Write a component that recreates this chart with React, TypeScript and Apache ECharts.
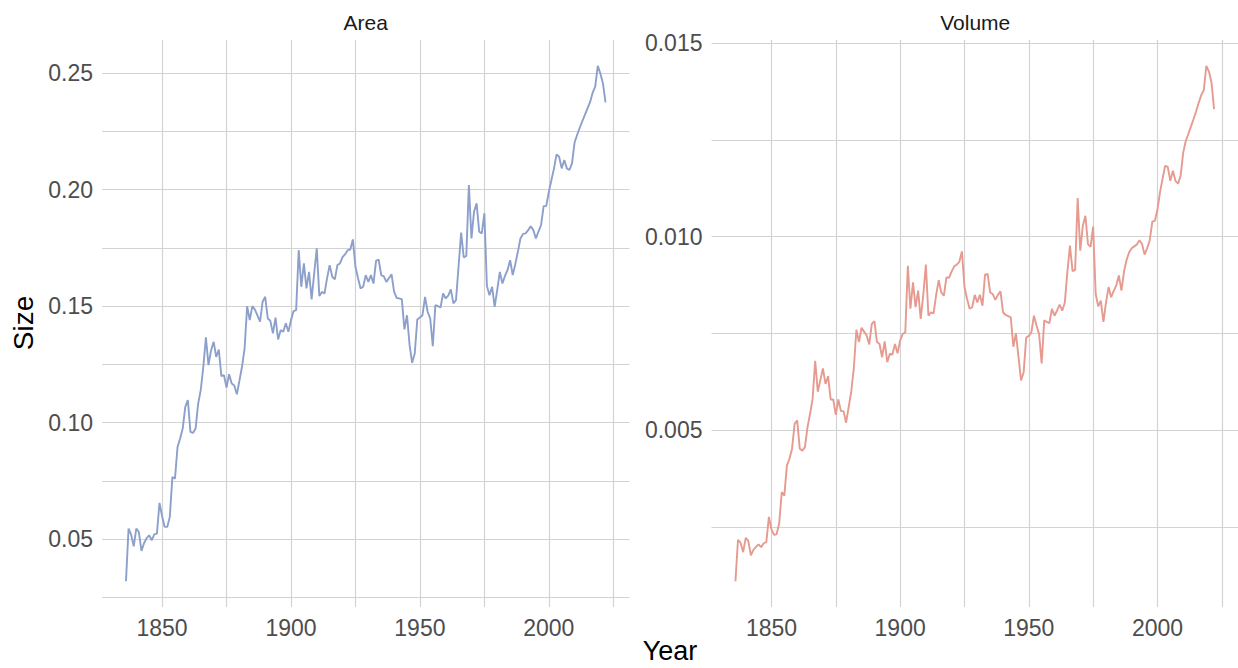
import React, { useEffect, useRef } from "react";
import * as echarts from "echarts";

// Yearly measurements, first year 1836
const START_YEAR = 1836;

const AREA = [
  0.032, 0.0546, 0.052, 0.047, 0.0546, 0.0531, 0.045, 0.0483, 0.0505, 0.0517,
  0.0496, 0.0521, 0.0524, 0.0656, 0.06, 0.0553, 0.0553, 0.0596, 0.0767, 0.076,
  0.0896, 0.0932, 0.0975, 0.1068, 0.1097, 0.0961, 0.0956, 0.0975, 0.1082, 0.114,
  0.124, 0.1366, 0.1247, 0.131, 0.1347, 0.1282, 0.1314, 0.12, 0.1204, 0.1151,
  0.1208, 0.1168, 0.116, 0.1122, 0.118, 0.124, 0.1318, 0.15, 0.144, 0.15,
  0.1485, 0.146, 0.1433, 0.1519, 0.154, 0.1447, 0.1437, 0.1383, 0.1451, 0.1357,
  0.1397, 0.139, 0.1426, 0.139, 0.144, 0.1479, 0.1483, 0.174, 0.1583, 0.1683,
  0.1576, 0.1647, 0.1529, 0.164, 0.1748, 0.1543, 0.1561, 0.1554, 0.162, 0.1676,
  0.1626, 0.1615, 0.1676, 0.1683, 0.171, 0.1723, 0.174, 0.1743, 0.1786, 0.1669,
  0.162, 0.1576, 0.1583, 0.1633, 0.1604, 0.1633, 0.1597, 0.1694, 0.17, 0.1633,
  0.1628, 0.1604, 0.162, 0.1637, 0.1561, 0.1535, 0.1533, 0.1529, 0.14, 0.1461,
  0.1333, 0.1257, 0.1297, 0.1443, 0.1451, 0.1461, 0.154, 0.1476, 0.1447, 0.1328,
  0.1504, 0.15, 0.1494, 0.1554, 0.1533, 0.1545, 0.1572, 0.1512, 0.1526, 0.167,
  0.1815, 0.1709, 0.1715, 0.2019, 0.179, 0.1905, 0.1941, 0.1819, 0.1812, 0.1898,
  0.1586, 0.1547, 0.1583, 0.1497, 0.157, 0.1647, 0.1597, 0.163, 0.1655, 0.1697,
  0.1633, 0.168, 0.1733, 0.179, 0.181, 0.1812, 0.1826, 0.1843, 0.1826, 0.179,
  0.182, 0.1848, 0.1929, 0.1929, 0.199, 0.204, 0.209, 0.2151, 0.2141, 0.2091,
  0.2127, 0.2091, 0.2084, 0.2112, 0.2202, 0.2235, 0.2265, 0.2294, 0.232, 0.2348,
  0.2375, 0.2415, 0.2442, 0.2531, 0.2498, 0.2455, 0.2374,
];

const VOLUME = [
  0.00111, 0.00218, 0.0021, 0.00186, 0.00223, 0.00215, 0.00178, 0.00192, 0.002, 0.00206,
  0.00199, 0.00209, 0.00212, 0.00277, 0.00245, 0.00231, 0.00232, 0.0026, 0.00341, 0.00332,
  0.0041, 0.00427, 0.00453, 0.00517, 0.00526, 0.00453, 0.00448, 0.00457, 0.00508, 0.00543,
  0.00582, 0.0068, 0.006, 0.0063, 0.0066, 0.0062, 0.0064, 0.0058, 0.0058, 0.0054,
  0.0058, 0.0055, 0.0055, 0.0052, 0.0056, 0.006, 0.0066, 0.0076, 0.00728, 0.00765,
  0.00755, 0.00745, 0.00722, 0.00775, 0.00782, 0.00728, 0.00723, 0.00689, 0.0073, 0.00676,
  0.00698, 0.00696, 0.00723, 0.00699, 0.00732, 0.00749, 0.00753, 0.00925, 0.00814, 0.00882,
  0.00818, 0.00861, 0.00788, 0.0085, 0.00928, 0.00796, 0.00805, 0.00802, 0.0085, 0.00888,
  0.00856, 0.00848, 0.00895, 0.00894, 0.0091, 0.00923, 0.00928, 0.00935, 0.00962, 0.00871,
  0.0084, 0.00814, 0.00818, 0.0085, 0.0083, 0.0085, 0.00822, 0.00902, 0.00904, 0.00856,
  0.00852, 0.00837, 0.0085, 0.00859, 0.00805, 0.00798, 0.00795, 0.00792, 0.00716, 0.00751,
  0.00689, 0.00629, 0.0065, 0.0074, 0.00744, 0.00753, 0.00796, 0.00771, 0.00749, 0.00673,
  0.00784, 0.0078, 0.00777, 0.00814, 0.00796, 0.0081, 0.00825, 0.00809, 0.0083, 0.0091,
  0.00977, 0.00911, 0.00914, 0.011, 0.00964, 0.01028, 0.01054, 0.00981, 0.00974, 0.01026,
  0.00852, 0.0082, 0.00835, 0.0078, 0.0083, 0.0087, 0.00844, 0.0086, 0.00874, 0.009,
  0.00861, 0.0091, 0.0094, 0.0096, 0.0097, 0.00975, 0.0098, 0.00991, 0.00981, 0.00954,
  0.0097, 0.00991, 0.01039, 0.01041, 0.0107, 0.01115, 0.0115, 0.01183, 0.0118, 0.01144,
  0.0117, 0.01144, 0.01137, 0.01157, 0.01217, 0.01247, 0.01265, 0.01284, 0.01303, 0.01323,
  0.01345, 0.01365, 0.01378, 0.01441, 0.01426, 0.01398, 0.01329,
];

const YEARS = AREA.map((_, i) => START_YEAR + i);

// Tick labels and grid-line positions
const X_LABELS = [1850, 1900, 1950, 2000];
const X_GRID = [1850, 1875, 1900, 1925, 1950, 1975, 2000, 2025];
const AREA_LABELS = [0.05, 0.1, 0.15, 0.2, 0.25];
const AREA_GRID = [0.025, 0.05, 0.075, 0.1, 0.125, 0.15, 0.175, 0.2, 0.225, 0.25];
const VOLUME_LABELS = [0.005, 0.01, 0.015];
const VOLUME_GRID = [0.0025, 0.005, 0.0075, 0.01, 0.0125, 0.015];

const PANEL_TITLES = ["Area", "Volume"];
const X_TITLE = "Year";
const Y_TITLE = "Size";

const AREA_COLOR = "#8DA0CB";
const VOLUME_COLOR = "#E69A90";
const GRID_COLOR = "#D3D3D3";
const FONT = "'Liberation Sans', Arial, Helvetica, sans-serif";

// Data range padded by 5% on each side
function paddedRange(values: number[], frac = 0.05): [number, number] {
  const lo = Math.min(...values);
  const hi = Math.max(...values);
  const pad = (hi - lo) * frac;
  return [lo - pad, hi + pad];
}

const PANEL_TOP = 40;
const PANEL_HEIGHT = 567;
const PANEL_WIDTH = 527.5;
const LEFT_PANEL_X = 102;
const RIGHT_PANEL_X = 711.5;

export default function App() {
  const ref = useRef<HTMLDivElement>(null);

  useEffect(() => {
    if (!ref.current) return;
    const chart = echarts.init(ref.current, undefined, { renderer: "svg" });

    const [xMin, xMax] = paddedRange(YEARS);
    const [aMin, aMax] = paddedRange(AREA);
    const [vMin, vMax] = paddedRange(VOLUME);

    const labelStyle = { color: "#4D4D4D", fontSize: 23, fontFamily: FONT };
    const gridLine = { show: true, lineStyle: { color: GRID_COLOR, width: 1.2 } };

    const xAxis = (gridIndex: number) => ({
      type: "value",
      gridIndex,
      min: xMin,
      max: xMax,
      axisLine: { show: false },
      axisTick: { show: false, customValues: X_GRID },
      axisLabel: {
        ...labelStyle,
        customValues: X_LABELS,
        margin: 9,
        formatter: (v: number) => String(v),
      },
      splitLine: gridLine,
    });

    const yAxis = (
      gridIndex: number,
      min: number,
      max: number,
      labels: number[],
      grid: number[],
      digits: number
    ) => ({
      type: "value",
      gridIndex,
      min,
      max,
      axisLine: { show: false },
      axisTick: { show: false, customValues: grid },
      axisLabel: {
        ...labelStyle,
        customValues: labels,
        margin: 9,
        formatter: (v: number) => v.toFixed(digits),
      },
      splitLine: gridLine,
    });

    const lineSeries = (idx: number, values: number[], color: string) => ({
      type: "line",
      xAxisIndex: idx,
      yAxisIndex: idx,
      data: YEARS.map((y, i) => [y, values[i]]),
      showSymbol: false,
      symbol: "none",
      silent: true,
      lineStyle: { color, width: 1.9 },
      itemStyle: { color },
      z: 3,
    });

    const titleText = (text: string, x: number, y: number, size: number, fill: string, rotation = 0) => ({
      type: "text",
      x,
      y,
      rotation,
      style: {
        text,
        fill,
        font: `${size}px ${FONT}`,
        textAlign: "center",
        textVerticalAlign: "middle",
      },
    });

    chart.setOption({
      animation: false,
      backgroundColor: "#FFFFFF",
      grid: [
        { left: LEFT_PANEL_X, top: PANEL_TOP, width: PANEL_WIDTH, height: PANEL_HEIGHT },
        { left: RIGHT_PANEL_X, top: PANEL_TOP, width: PANEL_WIDTH, height: PANEL_HEIGHT },
      ],
      xAxis: [xAxis(0), xAxis(1)],
      yAxis: [
        yAxis(0, aMin, aMax, AREA_LABELS, AREA_GRID, 2),
        yAxis(1, vMin, vMax, VOLUME_LABELS, VOLUME_GRID, 3),
      ],
      series: [lineSeries(0, AREA, AREA_COLOR), lineSeries(1, VOLUME, VOLUME_COLOR)],
      graphic: [
        titleText(PANEL_TITLES[0], LEFT_PANEL_X + PANEL_WIDTH / 2, 22, 21, "#1A1A1A"),
        titleText(PANEL_TITLES[1], RIGHT_PANEL_X + PANEL_WIDTH / 2, 22, 21, "#1A1A1A"),
        titleText(X_TITLE, 670, 651, 27, "#000000"),
        titleText(Y_TITLE, 23, 323, 28, "#000000", Math.PI / 2),
      ],
    });

    return () => chart.dispose();
  }, []);

  return (
    <div
      ref={ref}
      style={{ position: "absolute", left: 0, top: 0, width: 1238, height: 668 }}
    />
  );
}
